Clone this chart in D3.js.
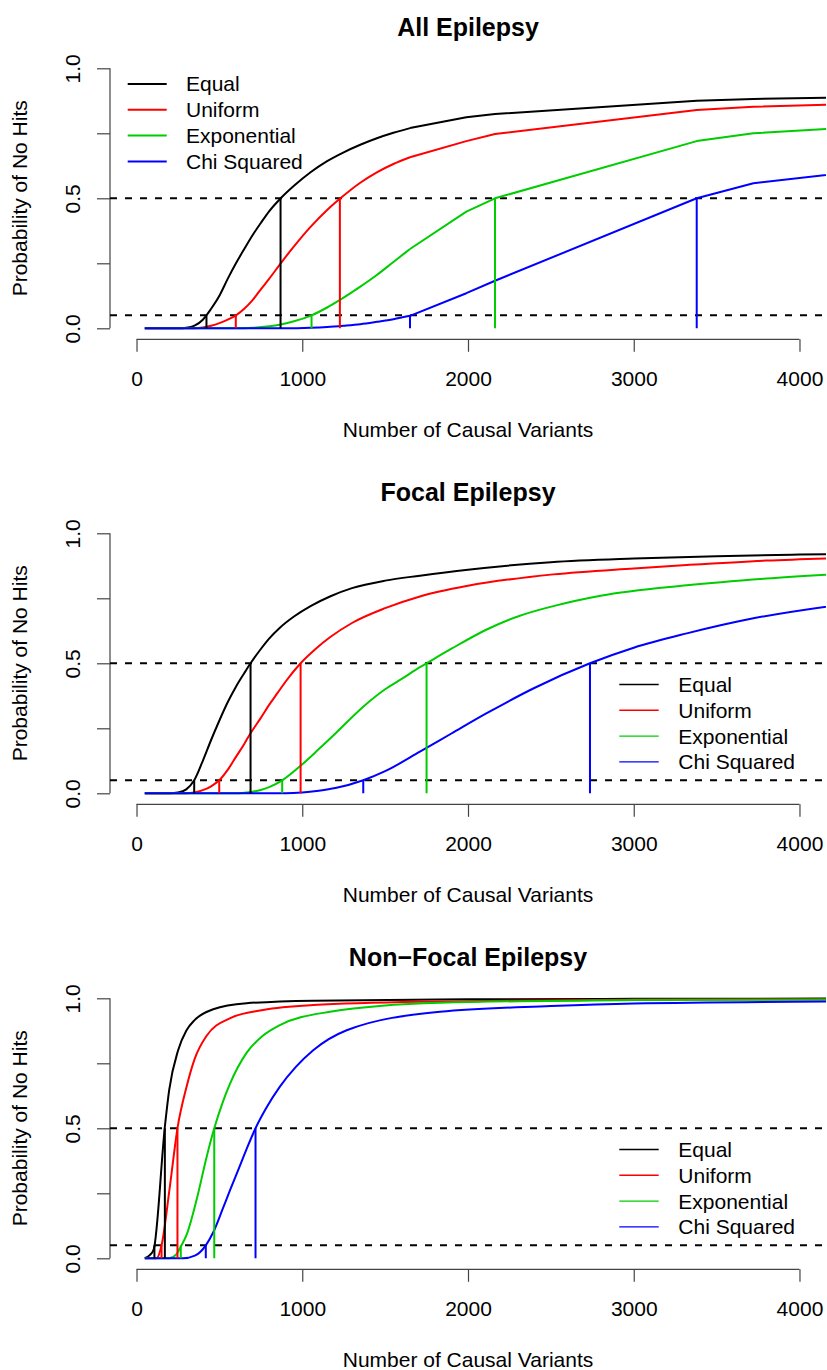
<html>
  <head>
    <script src="https://cdnjs.cloudflare.com/ajax/libs/d3/7.8.5/d3.min.js"></script>
    <style>
      body { margin: 0; background: #fff; }
      svg { display: block; font-family: "Liberation Sans", Arial, sans-serif; }
    </style>
  </head>
  <body>
    <svg width="827" height="1370"></svg>
    <script>
      // series names and colours (R palette: black, red, green3, blue)
      const seriesNames = ["Equal", "Uniform", "Exponential", "Chi Squared"];
      const seriesColors = ["#000000", "#ff0000", "#00cd00", "#0000ff"];
      const xTicks = [0, 1000, 2000, 3000, 4000];
      const yTicks = [0, 0.25, 0.5, 0.75, 1];
      const yLabels = {0: "0.0", 0.5: "0.5", 1: "1.0"};
      const cutoffs = [0.05, 0.5];

      // All Epilepsy, [causal variants, P(no hits)]
      const allEqual = [[50,0],[250,0],[300,0.002],[350,0.01],[400,0.033],[450,0.075],[500,0.125],[550,0.19],[600,0.25],[650,0.305],[700,0.358],[750,0.405],[800,0.45],[870,0.5],[950,0.548],[1050,0.6],[1150,0.643],[1250,0.677],[1350,0.706],[1450,0.731],[1550,0.752],[1650,0.77],[1990,0.812],[2163,0.824],[3380,0.875],[3722,0.882],[4300,0.888]];
      const allUniform = [[50,0],[350,0],[400,0.003],[450,0.01],[500,0.02],[550,0.033],[600,0.05],[650,0.075],[700,0.108],[750,0.15],[800,0.19],[870,0.25],[950,0.315],[1050,0.39],[1150,0.455],[1230,0.5],[1350,0.56],[1450,0.6],[1550,0.632],[1650,0.658],[1990,0.72],[2163,0.747],[3380,0.84],[3722,0.852],[4300,0.862]];
      const allExponential = [[50,0],[600,0],[700,0.002],[800,0.008],[870,0.015],[950,0.027],[1056,0.05],[1150,0.08],[1230,0.11],[1350,0.16],[1450,0.205],[1550,0.255],[1650,0.305],[1990,0.449],[2163,0.5],[3380,0.72],[3722,0.75],[4300,0.772]];
      const allChi = [[50,0],[900,0],[1050,0.002],[1150,0.005],[1250,0.01],[1350,0.016],[1450,0.025],[1550,0.035],[1650,0.048],[1990,0.135],[2163,0.183],[3380,0.5],[3722,0.558],[4300,0.6]];
      const all05 = [422, 599, 1056, 1650];
      const all50 = [869, 1227, 2163, 3380];

      // Focal Epilepsy
      const focalEqual = [[50,0],[200,0],[250,0.003],[300,0.015],[348,0.05],[400,0.125],[450,0.205],[500,0.28],[550,0.35],[600,0.41],[650,0.462],[688,0.5],[750,0.555],[800,0.595],[865,0.637],[950,0.68],[1050,0.72],[1167,0.757],[1300,0.789],[1500,0.818],[1710,0.837],[2000,0.86],[2500,0.889],[3000,0.903],[3500,0.912],[4000,0.918],[4300,0.921]];
      const focalUniform = [[50,0],[300,0],[350,0.003],[400,0.012],[450,0.027],[499,0.05],[550,0.09],[600,0.14],[650,0.19],[688,0.231],[750,0.29],[800,0.34],[850,0.385],[900,0.43],[990,0.5],[1080,0.555],[1167,0.6],[1300,0.655],[1500,0.712],[1710,0.757],[2000,0.798],[2515,0.842],[3000,0.865],[3320,0.878],[3800,0.895],[4300,0.906]];
      const focalExponential = [[50,0],[600,0],[650,0.002],[700,0.006],[750,0.013],[800,0.024],[879,0.05],[990,0.106],[1100,0.17],[1200,0.23],[1368,0.333],[1500,0.4],[1600,0.44],[1710,0.485],[1750,0.5],[1900,0.556],[2113,0.63],[2300,0.68],[2515,0.72],[2800,0.76],[3320,0.8],[3800,0.826],[4300,0.846]];
      const focalChi = [[50,0],[900,0],[1000,0.003],[1100,0.01],[1200,0.02],[1368,0.05],[1500,0.085],[1710,0.16],[1900,0.23],[2113,0.308],[2400,0.405],[2736,0.5],[3000,0.56],[3320,0.615],[3722,0.673],[4300,0.73]];
      const focal05 = [348, 499, 879, 1368];
      const focal50 = [688, 990, 1750, 2736];

      // Non-Focal Epilepsy
      const nonEqual = [[50,0],[80,0.012],[104,0.035],[171,0.506],[197,0.647],[251,0.8],[300,0.875],[352,0.917],[463,0.958],[664,0.981],[1065,0.991],[2000,0.996],[3000,0.998],[4300,0.999]];
      const nonUniform = [[50,0],[121,0],[151,0.05],[200,0.27],[247,0.5],[302,0.66],[352,0.769],[422,0.855],[563,0.923],[764,0.955],[1066,0.974],[1831,0.988],[3000,0.995],[4300,0.997]];
      const nonExponential = [[50,0],[197,0],[240,0.015],[267,0.045],[302,0.09],[362,0.224],[423,0.39],[469,0.5],[520,0.6],[563,0.67],[664,0.79],[760,0.855],[865,0.897],[1167,0.948],[1831,0.983],[3000,0.993],[4300,0.996]];
      const nonChi = [[50,0],[281,0],[352,0.01],[418,0.05],[463,0.1],[520,0.19],[563,0.26],[620,0.35],[664,0.42],[718,0.5],[780,0.575],[865,0.66],[960,0.735],[1066,0.8],[1268,0.877],[1831,0.948],[2500,0.97],[3000,0.98],[4300,0.988]];
      const non05 = [108, 151, 267, 418];
      const non50 = [171, 247, 469, 718];

      // smooth up to `smoothTo`, straight segments after that (sparse grid in the first panel)
      const panels = [
        {title: "All Epilepsy", series: [allEqual, allUniform, allExponential, allChi], q05: all05, q50: all50, legend: "topleft", smoothTo: 1650},
        {title: "Focal Epilepsy", series: [focalEqual, focalUniform, focalExponential, focalChi], q05: focal05, q50: focal50, legend: "right", smoothTo: 5000},
        {title: "Non\u2212Focal Epilepsy", series: [nonEqual, nonUniform, nonExponential, nonChi], q05: non05, q50: non50, legend: "right", smoothTo: 5000}
      ];

      const svg = d3.select("svg");
      const panelStep = 465;
      const left = 110, right = 826;

      panels.forEach((p, i) => {
        const off = i * panelStep;
        const g = svg.append("g").attr("transform", `translate(0,${off})`);
        const x = d3.scaleLinear().domain([-160, 4160]).range([left, right]);
        const y = d3.scaleLinear().domain([-0.04, 1.04]).range([338.7, 57.9]);

        g.append("clipPath").attr("id", "clip" + i)
          .append("rect").attr("x", left).attr("y", y(1.04)).attr("width", right - left).attr("height", y(-0.04) - y(1.04));

        // title
        g.append("text").attr("x", (left + right) / 2).attr("y", 36)
          .attr("text-anchor", "middle").attr("font-size", 25).attr("font-weight", "bold").text(p.title);

        // x axis
        const xa = g.append("g").attr("transform", `translate(0,${y(-0.04) + 0.6})`)
          .call(d3.axisBottom(x).tickValues(xTicks).tickFormat(d3.format("d")).tickSize(12.5).tickSizeOuter(0));
        xa.select(".domain").attr("d", `M${x(0)},0H${x(4000)}`).attr("stroke", "#444").attr("stroke-width", 1.2);
        xa.selectAll(".tick line").attr("stroke", "#444").attr("stroke-width", 1.2);
        xa.selectAll(".tick text").attr("y", 47).attr("dy", 0).attr("font-size", 21)
          .attr("font-family", "Liberation Sans, Arial, sans-serif").attr("fill", "#000");

        // y axis
        const ya = g.append("g").attr("transform", `translate(${left},0)`)
          .call(d3.axisLeft(y).tickValues(yTicks).tickSize(13).tickSizeOuter(0)
            .tickFormat(d => yLabels[d] || ""));
        ya.select(".domain").attr("d", `M0,${y(0)}V${y(1)}`).attr("stroke", "#444").attr("stroke-width", 1.2);
        ya.selectAll(".tick line").attr("stroke", "#444").attr("stroke-width", 1.2);
        ya.selectAll(".tick text").attr("x", 0).attr("dy", 0).attr("text-anchor", "middle")
          .attr("transform", "translate(-30,0) rotate(-90)").attr("font-size", 21)
          .attr("font-family", "Liberation Sans, Arial, sans-serif").attr("fill", "#000");

        // axis titles
        g.append("text").attr("transform", `translate(27,${y(0.5)}) rotate(-90)`)
          .attr("text-anchor", "middle").attr("font-size", 21).text("Probability of No Hits");
        g.append("text").attr("x", (left + right) / 2).attr("y", 437)
          .attr("text-anchor", "middle").attr("font-size", 21).text("Number of Causal Variants");

        const plot = g.append("g").attr("clip-path", `url(#clip${i})`);

        // cutoff lines
        plot.selectAll(".cut").data(cutoffs).join("line")
          .attr("x1", left).attr("x2", right).attr("y1", d => y(d)).attr("y2", d => y(d))
          .attr("stroke", "#000").attr("stroke-width", 2).attr("stroke-dasharray", "7,8");

        // curves
        const smooth = d3.line().x(d => x(d[0])).y(d => y(d[1])).curve(d3.curveMonotoneX);
        const straight = d3.line().x(d => x(d[0])).y(d => y(d[1]));
        p.series.forEach((s, k) => {
          const a = s.filter(d => d[0] <= p.smoothTo);
          const b = s.filter(d => d[0] >= p.smoothTo);
          plot.append("path").datum(a).attr("d", smooth).attr("fill", "none")
            .attr("stroke", seriesColors[k]).attr("stroke-width", 2).attr("stroke-linejoin", "round");
          if (b.length) {
            plot.append("path").datum(b).attr("d", straight).attr("fill", "none")
              .attr("stroke", seriesColors[k]).attr("stroke-width", 2).attr("stroke-linejoin", "round");
          }
        });

        // drop lines at the cutoffs
        [[p.q05, 0.05], [p.q50, 0.5]].forEach(([qs, level]) => {
          qs.forEach((q, k) => {
            plot.append("line").attr("x1", x(q)).attr("x2", x(q)).attr("y1", y(0)).attr("y2", y(level))
              .attr("stroke", seriesColors[k]).attr("stroke-width", 2);
          });
        });

        // legend
        const lg = p.legend === "topleft"
          ? {x0: 127.7, x1: 166.7, tx: 186, y0: 84, lw: 2}
          : {x0: 619.3, x1: 658.7, tx: 678.3, y0: 684.5 - panelStep, lw: 1.4};
        seriesNames.forEach((name, k) => {
          const yy = lg.y0 + k * 25.8;
          g.append("line").attr("x1", lg.x0).attr("x2", lg.x1).attr("y1", yy).attr("y2", yy)
            .attr("stroke", seriesColors[k]).attr("stroke-width", lg.lw);
          g.append("text").attr("x", lg.tx).attr("y", yy).attr("dy", "0.357em")
            .attr("font-size", 21).text(name);
        });
      });
    </script>
  </body>
</html>
